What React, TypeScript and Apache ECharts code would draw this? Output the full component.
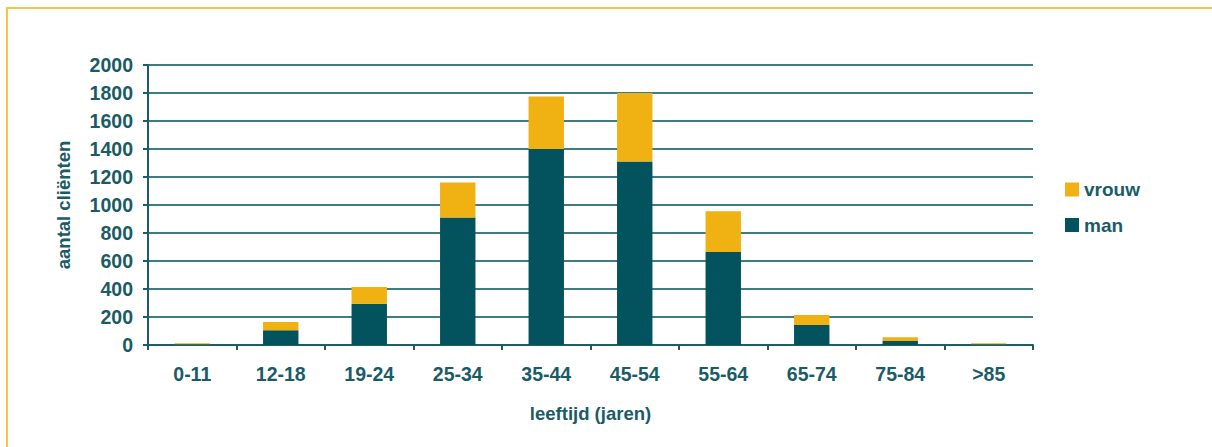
import React, { useEffect, useRef } from "react";
import * as echarts from "echarts";

const categories = ["0-11", "12-18", "19-24", "25-34", "35-44", "45-54", "55-64", "65-74", "75-84", ">85"];
const manValues = [5, 105, 295, 910, 1400, 1310, 665, 143, 28, 5];
const vrouwValues = [8, 60, 120, 250, 375, 490, 290, 72, 28, 8];

const TEXT = "#1b5b66";
const FONT = "'Liberation Sans', Arial, sans-serif";

export default function App() {
  const ref = useRef<HTMLDivElement>(null);
  useEffect(() => {
    if (!ref.current) return;
    const chart = echarts.init(ref.current, undefined, { renderer: "svg" });
    chart.setOption({
      animation: false,
      backgroundColor: "#ffffff",
      textStyle: { fontFamily: FONT },
      graphic: [
        {
          type: "rect",
          shape: { x: 7, y: 8, width: 1300, height: 600 },
          style: { fill: "none", stroke: "#f6c445", lineWidth: 2 },
          silent: true,
        },
      ],
      grid: { left: 148, right: 179, top: 65, bottom: 102 },
      legend: {
        data: ["vrouw", "man"],
        orient: "vertical",
        left: 1060,
        top: 175,
        itemWidth: 14,
        itemHeight: 14,
        itemGap: 16.5,
        icon: "rect",
        textStyle: { color: TEXT, fontSize: 19, fontWeight: "bold", fontFamily: FONT },
      },
      xAxis: {
        type: "category",
        data: categories,
        name: "leeftijd (jaren)",
        nameLocation: "middle",
        nameGap: 59,
        nameTextStyle: { color: TEXT, fontSize: 18.5, fontWeight: "bold", fontFamily: FONT },
        axisLine: { lineStyle: { color: "#1f5c66", width: 2 } },
        axisTick: { show: true, length: 5, lineStyle: { color: "#1f5c66", width: 2 } },
        axisLabel: { color: TEXT, fontSize: 19.5, fontWeight: "bold", margin: 19, fontFamily: FONT },
      },
      yAxis: {
        type: "value",
        min: 0,
        max: 2000,
        interval: 200,
        name: "aantal cliënten",
        nameLocation: "middle",
        nameGap: 75,
        nameRotate: 90,
        nameTextStyle: { color: TEXT, fontSize: 18.5, fontWeight: "bold", fontFamily: FONT },
        axisLine: { show: true, lineStyle: { color: "#1f5c66", width: 2 } },
        axisTick: { show: true, length: 5, lineStyle: { color: "#1f5c66", width: 2 } },
        axisLabel: {
          color: TEXT,
          fontSize: 19.5,
          fontWeight: "bold",
          margin: 15,
          fontFamily: FONT,
          formatter: (v: number) => String(v),
        },
        splitLine: { show: true, lineStyle: { color: "#3f7b83", width: 2 } },
      },
      series: [
        {
          name: "man",
          type: "bar",
          stack: "total",
          barWidth: "40%",
          data: manValues,
          itemStyle: { color: "#02535e" },
        },
        {
          name: "vrouw",
          type: "bar",
          stack: "total",
          barWidth: "40%",
          data: vrouwValues,
          itemStyle: { color: "#f0b112" },
        },
      ],
    });
    return () => chart.dispose();
  }, []);
  return (
    <div
      ref={ref}
      style={{ position: "absolute", left: 0, top: 0, width: 1212, height: 447 }}
    />
  );
}
